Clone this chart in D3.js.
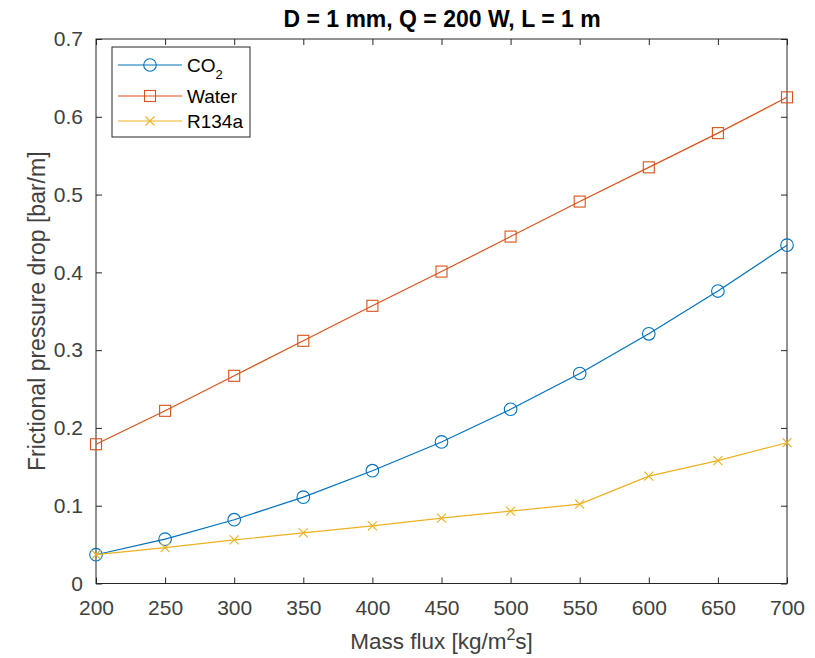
<!DOCTYPE html>
<html><head><meta charset="utf-8">
<script src="https://cdn.jsdelivr.net/npm/d3@7"></script>
<style>body{margin:0;background:#fff}svg{display:block}text{font-family:"Liberation Sans",Arial,sans-serif}</style>
</head><body><svg id="c" width="815" height="658"></svg>
<script>
const massFlux = [200,250,300,350,400,450,500,550,600,650,700];
const co2 = [0.037,0.057,0.082,0.111,0.145,0.182,0.224,0.270,0.321,0.376,0.435];
const water = [0.179,0.222,0.267,0.312,0.357,0.401,0.446,0.491,0.535,0.579,0.625];
const r134a = [0.037,0.046,0.056,0.065,0.074,0.084,0.093,0.102,0.138,0.158,0.181];
const xTicks = [200,250,300,350,400,450,500,550,600,650,700];
const yTicks = [0,0.1,0.2,0.3,0.4,0.5,0.6,0.7];
const seriesNames = ["CO2","Water","R134a"];
const colors = ["#0072BD","#D95319","#EDB120"];
const markers = ["circle","square","x"];

const svg = d3.select("#c");
const L=96,R=787,T=39,B=583.5;
const x = d3.scaleLinear().domain([200,700]).range([L,R]);
const y = d3.scaleLinear().domain([0,0.7]).range([B,T]);
const axisCol="#262626";

svg.append("rect").attr("x",L).attr("y",T).attr("width",R-L).attr("height",B-T)
  .attr("fill","none").attr("stroke",axisCol).attr("stroke-width",1);

const tl=6;
const gx=svg.append("g").attr("transform",`translate(0,${B})`)
  .call(d3.axisBottom(x).tickValues(xTicks).tickSize(-tl).tickPadding(16.5).tickFormat(d3.format("d")));
const gxt=svg.append("g").attr("transform",`translate(0,${T})`)
  .call(d3.axisTop(x).tickValues(xTicks).tickSize(-tl).tickFormat(""));
const gy=svg.append("g").attr("transform",`translate(${L},0)`)
  .call(d3.axisLeft(y).tickValues(yTicks).tickSize(-tl).tickPadding(13).tickFormat(d=>d===0?"0":d3.format(".1f")(d)));
const gyr=svg.append("g").attr("transform",`translate(${R},0)`)
  .call(d3.axisRight(y).tickValues(yTicks).tickSize(-tl).tickFormat(""));
[gx,gxt,gy,gyr].forEach(g=>{
  g.select(".domain").remove();
  g.selectAll("line").attr("stroke",axisCol);
  g.selectAll("text").attr("fill","#404040").style("font-size","21px");
});

const seriesData=[co2,water,r134a];
function drawMarker(g,type,cx,cy,col){
  if(type==="circle") g.append("circle").attr("cx",cx).attr("cy",cy).attr("r",6.3).attr("fill","none").attr("stroke",col).attr("stroke-width",1.1);
  else if(type==="square") g.append("rect").attr("x",cx-5.5).attr("y",cy-5.5).attr("width",11).attr("height",11).attr("fill","none").attr("stroke",col).attr("stroke-width",1.1);
  else { const s=4.5; g.append("path").attr("d",`M${cx-s},${cy-s}L${cx+s},${cy+s}M${cx-s},${cy+s}L${cx+s},${cy-s}`).attr("stroke",col).attr("stroke-width",1.1).attr("fill","none"); }
}
const line=d3.line().x((d,i)=>x(massFlux[i])).y(d=>y(d));
seriesData.forEach((arr,k)=>{
  const g=svg.append("g");
  g.append("path").datum(arr).attr("d",line).attr("fill","none").attr("stroke",colors[k]).attr("stroke-width",1.2);
  arr.forEach((v,i)=>drawMarker(g,markers[k],x(massFlux[i]),y(v),colors[k]));
});

svg.append("text").attr("x",442).attr("y",27).attr("text-anchor","middle")
  .style("font-size","23px").style("font-weight","bold").attr("fill","#000").text("D = 1 mm, Q = 200 W, L = 1 m");
const xl=svg.append("text").attr("x",(L+R)/2).attr("y",649).attr("text-anchor","middle")
  .style("font-size","22.5px").attr("fill","#404040");
xl.append("tspan").text("Mass flux [kg/m");
xl.append("tspan").attr("dy",-9).style("font-size","16px").text("2");
xl.append("tspan").attr("dy",9).text("s]");
svg.append("text").attr("transform",`translate(45,${(T+B)/2}) rotate(-90)`).attr("text-anchor","middle")
  .style("font-size","23px").attr("fill","#404040").text("Frictional pressure drop [bar/m]");

const lg=svg.append("g");
lg.append("rect").attr("x",112).attr("y",47).attr("width",138).attr("height",90)
  .attr("fill","#fff").attr("stroke",axisCol).attr("stroke-width",1);
const ly=[65,96,121];
seriesNames.forEach((n,k)=>{
  lg.append("line").attr("x1",118).attr("x2",182).attr("y1",ly[k]).attr("y2",ly[k]).attr("stroke",colors[k]).attr("stroke-width",1.2);
  drawMarker(lg,markers[k],150,ly[k],colors[k]);
  const t=lg.append("text").attr("x",187).attr("y",ly[k]+7).style("font-size","19px").attr("fill","#000");
  if(n==="CO2"){ t.append("tspan").text("CO"); t.append("tspan").attr("dy",7).style("font-size","13px").text("2"); }
  else t.text(n);
});
</script></body></html>
